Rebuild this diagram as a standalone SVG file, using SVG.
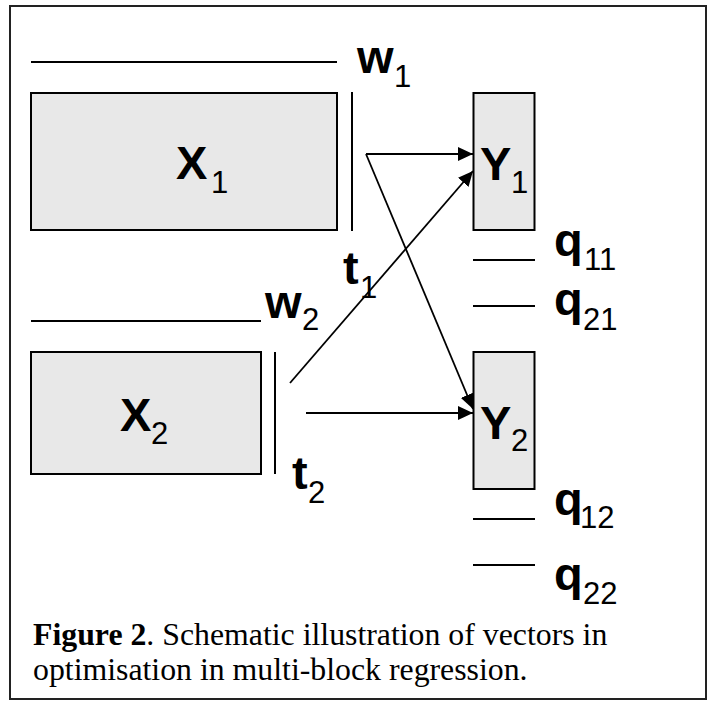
<svg xmlns="http://www.w3.org/2000/svg" width="708" height="702" viewBox="0 0 708 702">
<style>
.blk{fill:#e8e8e8;stroke:#000;stroke-width:2}
.ln{stroke:#000;stroke-width:2;fill:none}
.ar{stroke:#000;stroke-width:1.8;fill:none}
.m{font-family:"Liberation Sans",Arial,sans-serif;font-weight:bold;font-size:47px;fill:#000}
.s{font-family:"Liberation Sans",Arial,sans-serif;font-weight:normal;font-size:31px;fill:#000}
.cap{font-family:"Liberation Serif","Times New Roman",serif;font-size:31.8px;fill:#000}
</style>
<defs>
<marker id="ah" viewBox="0 0 15 14" refX="15" refY="7" markerWidth="15" markerHeight="14" markerUnits="userSpaceOnUse" orient="auto">
<path d="M0,0 L15,7 L0,14 z" fill="#000"/>
</marker>
</defs>
<rect x="10" y="6" width="696" height="693" fill="#fff" stroke="#222" stroke-width="2"/>
<g id="w1">
<line class="ln" x1="31" y1="62" x2="337" y2="62"/>
<text class="m" x="357" y="73">w</text><text class="s" x="394" y="87">1</text>
</g>
<g id="X1">
<rect class="blk" x="31" y="93" width="306" height="137"/>
<text class="m" x="176" y="179">X</text><text class="s" x="211" y="193">1</text>
</g>
<g id="t1">
<line class="ln" x1="352" y1="92" x2="352" y2="231"/>
<text class="m" x="343" y="284">t</text><text class="s" x="360" y="298">1</text>
</g>
<g id="Y1">
<rect class="blk" x="473.5" y="93" width="61" height="137"/>
<text class="m" x="480" y="180">Y</text><text class="s" x="511" y="193">1</text>
</g>
<g id="q11">
<line class="ln" x1="473" y1="260" x2="535" y2="260"/>
<text class="m" x="554" y="256">q</text><text class="s" x="584" y="270">11</text>
</g>
<g id="q21">
<line class="ln" x1="473" y1="306" x2="535" y2="306"/>
<text class="m" x="554" y="315">q</text><text class="s" x="583" y="330">21</text>
</g>
<g id="w2">
<line class="ln" x1="31" y1="321" x2="261" y2="321"/>
<text class="m" x="265" y="318">w</text><text class="s" x="302" y="330">2</text>
</g>
<g id="X2">
<rect class="blk" x="31" y="352" width="230" height="122"/>
<text class="m" x="120" y="431">X</text><text class="s" x="151" y="444">2</text>
</g>
<g id="t2">
<line class="ln" x1="275" y1="352" x2="275" y2="474"/>
<text class="m" x="292" y="489">t</text><text class="s" x="308" y="503">2</text>
</g>
<g id="Y2">
<rect class="blk" x="473.5" y="352" width="61" height="137"/>
<text class="m" x="480" y="439">Y</text><text class="s" x="511" y="451">2</text>
</g>
<g id="q12">
<line class="ln" x1="473" y1="519" x2="535" y2="519"/>
<text class="m" x="554" y="515">q</text><text class="s" x="580" y="528">12</text>
</g>
<g id="q22">
<line class="ln" x1="473" y1="565" x2="535" y2="565"/>
<text class="m" x="554" y="590">q</text><text class="s" x="583" y="604">22</text>
</g>
<g id="connectors">
<line class="ln" x1="366" y1="154" x2="473" y2="154" marker-end="url(#ah)"/>
<line class="ar" x1="366" y1="154" x2="473" y2="409" marker-end="url(#ah)"/>
<line class="ar" x1="290" y1="383" x2="473" y2="171" marker-end="url(#ah)"/>
<line class="ln" x1="306" y1="413" x2="473" y2="413" marker-end="url(#ah)"/>
</g>
<g id="caption">
<text class="cap" x="33" y="645"><tspan font-weight="bold">Figure 2</tspan>. Schematic illustration of vectors in</text>
<text class="cap" x="33" y="680">optimisation in multi-block regression.</text>
</g>
</svg>
